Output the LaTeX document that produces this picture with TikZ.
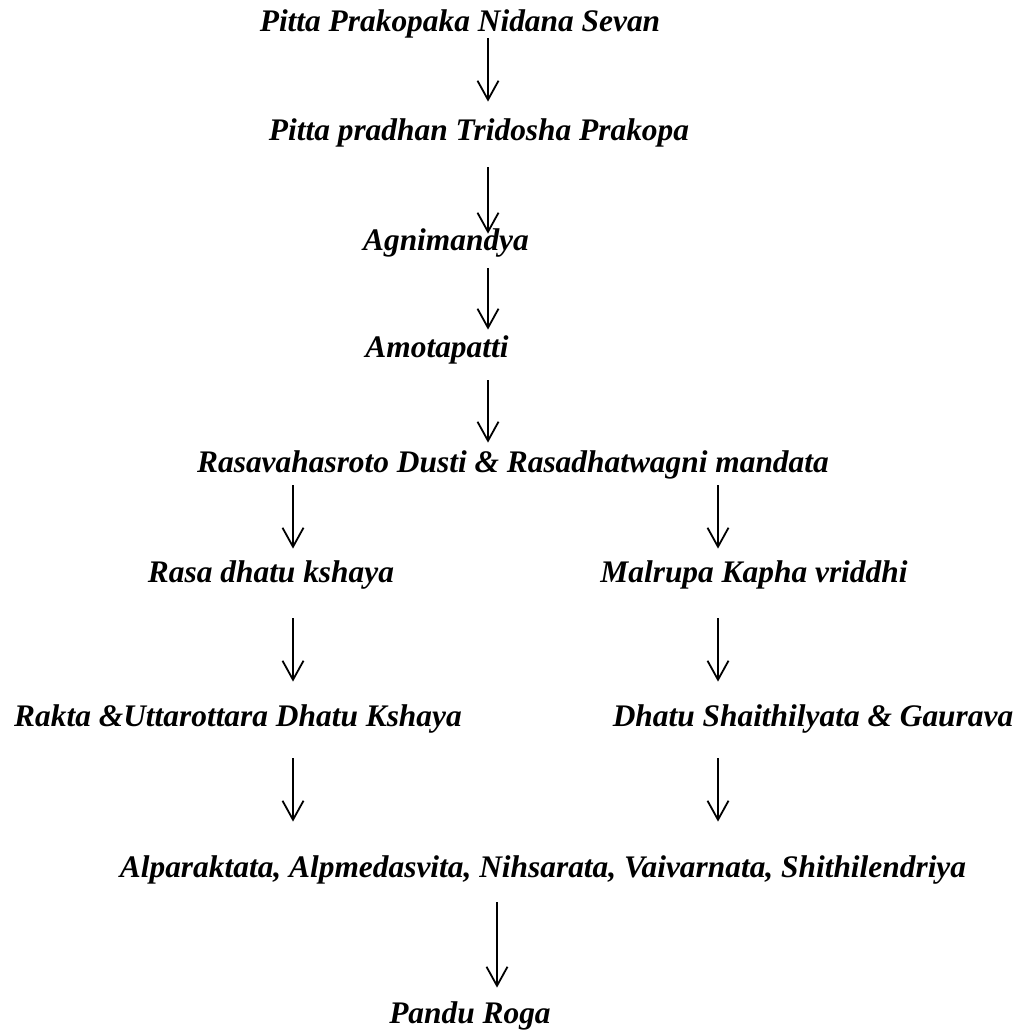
\documentclass[tikz,border=0pt]{standalone}
\usepackage{fontspec}
\setmainfont{Liberation Serif}
\usetikzlibrary{arrows.meta}
\begin{document}
\begin{tikzpicture}[x=0.5pt,y=-0.5pt,
	txt/.style={inner sep=0pt,text height=9.5pt,text depth=3.5pt,anchor=base,
		font=\fontsize{15.7}{18}\selectfont\bfseries\itshape},
	arr/.style={line width=0.9pt,-{Straight Barb[length=9.5pt,width=10.5pt]}}]
	\useasboundingbox (0,0) rectangle (1016,1034);
	\path (488,0) coordinate (ax) (293,0) coordinate (bx)
	(718,0) coordinate (cx) (497,0) coordinate (dx);
	\node[txt] (nidana) at (460,31) {Pitta Prakopaka Nidana Sevan};
	\node[txt] (prakopa) at (479,140) {Pitta pradhan Tridosha Prakopa};
	\node[txt] (agni) at (446,250) {Agnimandya};
	\node[txt] (ama) at (437,357) {Amotapatti};
	\node[txt] (rasavaha) at (513,472) {Rasavahasroto Dusti \& Rasadhatwagni mandata};
	\node[txt] (rasa) at (271,582) {Rasa dhatu kshaya};
	\node[txt] (kapha) at (754,582) {Malrupa Kapha vriddhi};
	\node[txt] (rakta) at (238,726) {Rakta \&Uttarottara Dhatu Kshaya};
	\node[txt] (shaithilya) at (813,726) {Dhatu Shaithilyata \& Gaurava};
	\node[txt] (lakshana) at (543,877) {Alparaktata, Alpmedasvita, Nihsarata, Vaivarnata, Shithilendriya};
	\node[txt] (pandu) at (470,1023) {Pandu Roga};
	\draw[arr,shorten >=9.5pt] (nidana.south -| ax)--(prakopa.north -| ax);
	\draw[arr,shorten <=10pt,shorten >=-1.5pt] (prakopa.south -| ax)--(agni.north -| ax);
	\draw[arr,shorten <=5.5pt,shorten >=4pt] (agni.south -| ax)--(ama.north -| ax);
	\draw[arr,shorten <=8pt,shorten >=5pt] (ama.south -| ax)--(rasavaha.north -| ax);
	\draw[arr,shorten <=3pt,shorten >=7pt] (rasavaha.south -| bx)--(rasa.north -| bx);
	\draw[arr,shorten <=3pt,shorten >=7pt] (rasavaha.south -| cx)--(kapha.north -| cx);
	\draw[arr,shorten <=14.5pt,shorten >=12.5pt] (rasa.south -| bx)--(rakta.north -| bx);
	\draw[arr,shorten <=14.5pt,shorten >=12.5pt] (kapha.south -| cx)--(shaithilya.north -| cx);
	\draw[arr,shorten <=12.5pt,shorten >=18pt] (rakta.south -| bx)--(lakshana.north -| bx);
	\draw[arr,shorten <=12.5pt,shorten >=18pt] (shaithilya.south -| cx)--(lakshana.north -| cx);
	\draw[arr,shorten <=9pt,shorten >=8pt] (lakshana.south -| dx)--(pandu.north -| dx);
\end{tikzpicture}
\end{document}
